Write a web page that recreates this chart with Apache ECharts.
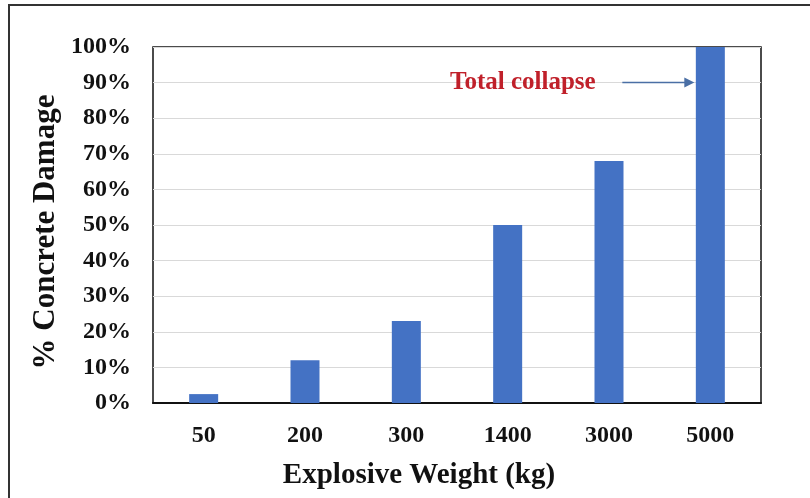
<!DOCTYPE html>
<html>
<head>
<meta charset="utf-8">
<script src="https://cdn.jsdelivr.net/npm/echarts@6/dist/echarts.min.js"></script>
<style>
html,body{margin:0;padding:0;background:#fff;}
#c{width:810px;height:498px;}
</style>
</head>
<body>
<div id="c"></div>
<script>
var categories = ['50', '200', '300', '1400', '3000', '5000'];
var damageValues = [2.5, 12, 23, 50, 68, 100];
var yTicks = { min: 0, max: 100, interval: 10 };
var xTitle = 'Explosive Weight (kg)';
var yTitle = '% Concrete Damage';
var annotationText = 'Total collapse';
var annotationLevel = 90;

var FONT = "'Liberation Serif', 'Times New Roman', serif";
var chart = echarts.init(document.getElementById('c'), null, { renderer: 'canvas' });

var option = {
  backgroundColor: '#fff',
  animation: false,
  grid: {
    left: 153, right: 49, top: 47, bottom: 95,
    show: true, borderColor: '#111', borderWidth: 1.5, backgroundColor: 'transparent'
  },
  xAxis: {
    type: 'category',
    data: categories,
    axisLine: { show: true, lineStyle: { color: '#111', width: 2 } },
    axisTick: { show: false },
    axisLabel: { margin: 21, color: '#111', fontFamily: FONT, fontWeight: 'bold', fontSize: 24 }
  },
  yAxis: {
    type: 'value',
    min: yTicks.min, max: yTicks.max, interval: yTicks.interval,
    axisLine: { show: false },
    axisTick: { show: false },
    splitLine: { show: true, lineStyle: { color: '#d9d9d9', width: 1.2 } },
    axisLabel: { margin: 22, color: '#111', fontFamily: FONT, fontWeight: 'bold', fontSize: 24,
      formatter: '{value}%' }
  },
  series: [{
    type: 'bar',
    data: damageValues,
    barWidth: 29,
    itemStyle: { color: '#4472c4' }
  }]
};
chart.setOption(option);

var yLevel = chart.convertToPixel({ yAxisIndex: 0 }, annotationLevel);
var lastX = chart.convertToPixel({ xAxisIndex: 0 }, categories[categories.length - 1]);
var arrowEnd = lastX - 16;
var arrowStart = arrowEnd - 72;

chart.setOption({
  graphic: [
    { type: 'polyline', silent: true,
      shape: { points: [[9, 830], [9, 5], [830, 5]] },
      style: { stroke: '#333', lineWidth: 2, fill: null } },
    { type: 'text', silent: true, x: 419, y: 476,
      style: { text: xTitle, fill: '#111', font: 'bold 29px ' + FONT, align: 'center', verticalAlign: 'middle' } },
    { type: 'text', silent: true, x: 46, y: 232, rotation: Math.PI / 2,
      style: { text: yTitle, fill: '#111', font: 'bold 31px ' + FONT, align: 'center', verticalAlign: 'middle' } },
    { type: 'text', silent: true, x: 450, y: yLevel,
      style: { text: annotationText, fill: '#c0202a', font: 'bold 25px ' + FONT, align: 'left', verticalAlign: 'middle' } },
    { type: 'line', silent: true,
      shape: { x1: arrowStart, y1: yLevel, x2: arrowEnd - 8, y2: yLevel },
      style: { stroke: '#4a6fa5', lineWidth: 1.5 } },
    { type: 'polygon', silent: true,
      shape: { points: [[arrowEnd - 10, yLevel - 5], [arrowEnd, yLevel], [arrowEnd - 10, yLevel + 5]] },
      style: { fill: '#4a6fa5' } }
  ]
});
</script>
</body>
</html>
